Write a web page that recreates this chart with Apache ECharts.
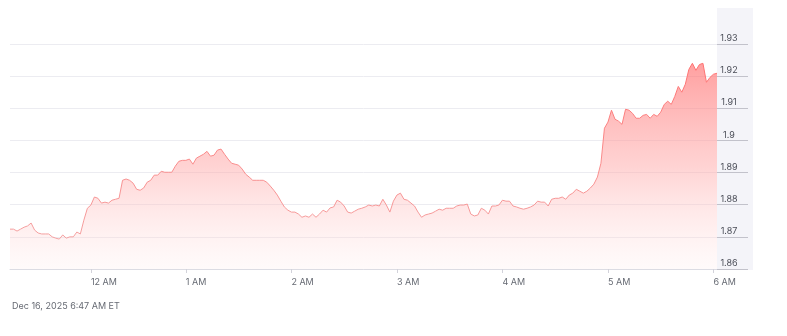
<!DOCTYPE html>
<html>
<head>
<meta charset="utf-8">
<script src="https://cdn.jsdelivr.net/npm/echarts@6/dist/echarts.min.js"></script>
<style>
  html, body { margin: 0; padding: 0; background: #ffffff; }
  #chart { width: 787px; height: 336px; }
</style>
</head>
<body>
<div id="chart"></div>
<script>
// ---- data ----
// sample timestamps (2-minute samples, ET); a few samples missing after midnight
const startTime = "23:14";
const endTime = "06:02";
const missingTimes = ["00:32", "00:34", "00:36"];

const prices = [
  1.8724,1.8724,1.8718,1.8724,1.873,1.8734,1.8743,1.8721,1.8712,1.8709,
  1.8709,1.8709,1.87,1.8696,1.8693,1.8706,1.8696,1.87,1.87,1.8715,
  1.8709,1.8752,1.8789,1.8799,1.8824,1.882,1.8805,1.8808,1.8805,1.8814,
  1.8817,1.882,1.8876,1.888,1.8876,1.8867,1.8848,1.8845,1.8852,1.887,
  1.8876,1.8892,1.8892,1.8904,1.8901,1.8901,1.8901,1.892,1.8935,1.8938,
  1.8938,1.8942,1.8926,1.8945,1.8951,1.8957,1.8966,1.8951,1.8954,1.897,
  1.8973,1.8957,1.8942,1.8929,1.8926,1.8923,1.8911,1.8895,1.8886,1.8876,
  1.8876,1.8876,1.8876,1.887,1.8858,1.8845,1.883,1.8811,1.8793,1.8783,
  1.8777,1.8777,1.8771,1.8761,1.8765,1.8761,1.8771,1.8761,1.8771,1.8783,
  1.8777,1.879,1.8793,1.8814,1.8808,1.8796,1.8777,1.8774,1.878,1.8786,
  1.8789,1.8793,1.8799,1.8796,1.8799,1.8796,1.8817,1.8799,1.8777,1.8811,
  1.883,1.8836,1.8817,1.8814,1.8805,1.8796,1.8777,1.8761,1.8768,1.8771,
  1.8774,1.878,1.8786,1.8783,1.8789,1.8789,1.8789,1.8796,1.8799,1.8799,
  1.8802,1.8771,1.8765,1.8768,1.8789,1.8783,1.8771,1.8796,1.8796,1.8799,
  1.8814,1.8811,1.8811,1.8796,1.8793,1.8789,1.8786,1.8789,1.8793,1.8799,
  1.8811,1.8808,1.8808,1.8796,1.8817,1.882,1.882,1.8824,1.8817,1.883,
  1.8836,1.8848,1.8842,1.8836,1.8842,1.8852,1.8864,1.8886,1.8929,1.9038,
  1.9057,1.9094,1.9066,1.906,1.905,1.9097,1.9094,1.9084,1.9069,1.9069,
  1.9078,1.9081,1.9069,1.9081,1.9075,1.9088,1.9112,1.9122,1.9112,1.9137,
  1.9168,1.915,1.9175,1.9221,1.924,1.9218,1.9236,1.924,1.9181,1.9196,
  1.9206,1.9209
];

const yMin = 1.86;
const yMax = 1.93;
const yStep = 0.01;
const hourLabels = {"00":"12 AM","01":"1 AM","02":"2 AM","03":"3 AM","04":"4 AM","05":"5 AM","06":"6 AM"};
const footnote = "Dec 16, 2025 6:47 AM ET";

// build the category list of timestamps
function toMin(s){ const p = s.split(":"); return (+p[0])*60 + (+p[1]); }
function pad(n){ return (n < 10 ? "0" : "") + n; }
const times = [];
(function(){
  let m = toMin(startTime);
  let end = toMin(endTime) + 24*60;
  for (; m <= end; m += 2) {
    const mm = m % (24*60);
    const s = pad(Math.floor(mm/60)) + ":" + pad(mm % 60);
    if (missingTimes.indexOf(s) === -1) times.push(s);
  }
})();

const isHour = (idx, val) => /:00$/.test(val);

const chart = echarts.init(document.getElementById('chart'), null, {renderer: 'canvas'});
const font = "Inter, 'Noto Sans', sans-serif";

chart.setOption({
  animation: false,
  backgroundColor: '#ffffff',
  grid: { left: 10, right: 70, top: 44, bottom: 67, containLabel: false },
  graphic: [
    { type: 'rect', z: -10, shape: { x: 717, y: 8, width: 36, height: 262 },
      style: { fill: '#f4f4f9' }, silent: true },
    { type: 'text', left: 12, top: 302,
      style: { text: footnote, fill: '#666a73', font: "9px " + font } }
  ],
  xAxis: {
    type: 'category',
    data: times,
    boundaryGap: false,
    axisLine: { show: true, lineStyle: { color: '#dcdce3', width: 1 } },
    axisTick: { show: true, interval: isHour, length: 4, lineStyle: { color: '#d2d2da' } },
    axisLabel: {
      interval: isHour,
      formatter: v => hourLabels[v.slice(0,2)] || '',
      align: 'left',
      margin: 9,
      color: '#666a73',
      fontSize: 9,
      fontFamily: font
    },
    splitLine: { show: false }
  },
  yAxis: {
    type: 'value',
    position: 'right',
    min: yMin,
    max: yMax,
    interval: yStep,
    axisLine: { show: false },
    axisTick: { show: true, inside: false, length: 31, lineStyle: { color: '#c2c2cb' } },
    splitLine: { show: true, lineStyle: { color: '#ececf1', width: 1 } },
    axisLabel: {
      formatter: v => String(+v.toFixed(2)),
      align: 'center',
      verticalAlign: 'bottom',
      margin: 12,
      padding: [0, 0, 1, 0],
      color: '#4a4d57',
      fontSize: 9,
      fontFamily: font
    }
  },
  series: [{
    type: 'line',
    data: prices,
    symbol: 'none',
    smooth: false,
    lineStyle: {
      width: 1,
      color: new echarts.graphic.LinearGradient(0, 0, 0, 1, [
        { offset: 0, color: '#ff7070' },
        { offset: 1, color: '#f4a2a2' }
      ])
    },
    areaStyle: {
      color: new echarts.graphic.LinearGradient(0, 0, 0, 1, [
        { offset: 0, color: 'rgba(255,112,112,0.95)' },
        { offset: 0.5, color: 'rgba(255,165,165,0.7)' },
        { offset: 1, color: 'rgba(255,232,232,0.3)' }
      ])
    }
  }]
});
</script>
</body>
</html>
